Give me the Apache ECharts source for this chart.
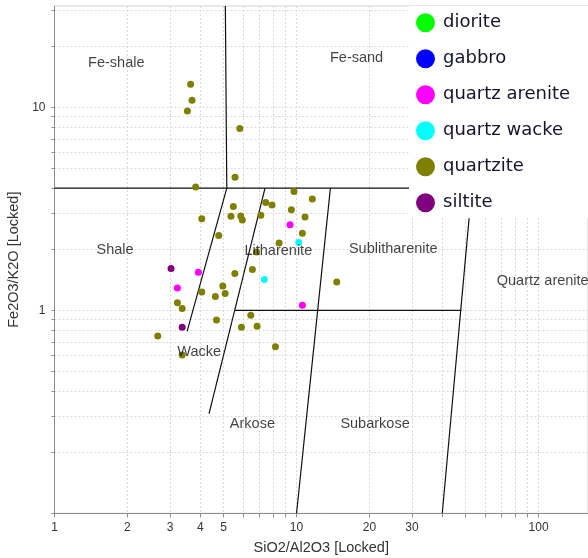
<!DOCTYPE html>
<html>
<head>
<meta charset="utf-8">
<script src="https://cdn.jsdelivr.net/npm/echarts@6/dist/echarts.min.js"></script>
<style>
  html, body { margin: 0; padding: 0; background: #fff; }
  #chart { width: 588px; height: 558px; }
</style>
</head>
<body>
<div id="chart"></div>
<script>
// Log-log sandstone classification: SiO2/Al2O3 vs Fe2O3/K2O

const xTickValues = [1, 2, 3, 4, 5, 6, 7, 8, 9, 10, 20, 30, 40, 50, 60, 70, 80, 90, 100];
const xLabelValues = [1, 2, 3, 4, 5, 10, 20, 30, 100];
const yTickValues = [0.1, 0.2, 0.3, 0.4, 0.5, 0.6, 0.7, 0.8, 0.9, 1, 2, 3, 4, 5, 6, 7, 8, 9, 10, 20, 30];
const yLabelValues = [1, 10];

const legendNames = ['diorite', 'gabbro', 'quartz arenite', 'quartz wacke', 'quartzite', 'siltite'];

// [SiO2/Al2O3, Fe2O3/K2O]
const diorite = [];
const gabbro = [];
const quartzArenite = [[9.40, 2.64], [3.93, 1.54], [3.22, 1.29], [10.57, 1.06]];
const quartzWacke = [[10.21, 2.16], [7.36, 1.42]];
const quartzite = [
  [3.65, 13.0], [3.70, 10.86], [3.54, 9.59], [5.83, 7.88], [5.57, 4.53],
  [3.83, 4.05], [9.76, 3.85], [11.62, 3.54], [7.46, 3.40], [7.92, 3.30],
  [5.48, 3.25], [9.52, 3.13], [7.12, 2.94], [5.36, 2.91], [5.88, 2.92],
  [5.97, 2.79], [10.84, 2.88], [4.06, 2.83], [10.57, 2.40], [4.77, 2.34],
  [8.47, 2.15], [6.83, 1.94], [6.57, 1.59], [5.56, 1.52], [14.66, 1.38],
  [4.96, 1.32], [4.06, 1.23], [5.07, 1.21], [4.62, 1.17], [3.22, 1.09],
  [3.37, 1.02], [6.47, 0.947], [4.67, 0.897], [6.87, 0.836], [5.92, 0.825],
  [2.67, 0.748], [8.18, 0.661], [3.37, 0.602]
];
const siltite = [[3.03, 1.61], [3.37, 0.825]];

// Field boundaries
const boundaries = [
  [[1, 4], [160, 4]],
  [[5.08, 31.6], [5.15, 4]],
  [[5.15, 4], [3.53, 0.788]],
  [[7.41, 4], [4.35, 0.31]],
  [[13.8, 4], [10.0, 0.1]],
  [[5.56, 1], [48, 1]],
  [[53, 4], [40, 0.1]]
];

// Field names and their anchor points
const fieldNames = ['Fe-shale', 'Fe-sand', 'Shale', 'Litharenite', 'Sublitharenite', 'Quartz arenite', 'Wacke', 'Arkose', 'Subarkose'];
const fieldAnchors = [[1.80, 16.6], [17.7, 17.5], [1.78, 1.99], [8.41, 1.97], [25.1, 2.0], [104, 1.39], [3.96, 0.624], [6.57, 0.277], [21.1, 0.277]];

const colors = {
  'diorite': '#00ff00',
  'gabbro': '#0000ff',
  'quartz arenite': '#ff00ff',
  'quartz wacke': '#00ffff',
  'quartzite': '#808000',
  'siltite': '#800080'
};
const groups = {
  'diorite': diorite,
  'gabbro': gabbro,
  'quartz arenite': quartzArenite,
  'quartz wacke': quartzWacke,
  'quartzite': quartzite,
  'siltite': siltite
};

const font = 'Liberation Sans, Arial, sans-serif';

const series = [];

boundaries.forEach(function (seg) {
  series.push({
    type: 'line',
    data: seg,
    symbol: 'none',
    silent: true,
    z: 3,
    lineStyle: { color: '#111', width: 1.2 },
    animation: false
  });
});

legendNames.forEach(function (name) {
  series.push({
    name: name,
    type: 'scatter',
    data: groups[name],
    symbol: 'circle',
    symbolSize: 7,
    z: 4,
    itemStyle: { color: colors[name], opacity: 1 },
    animation: false
  });
});

series.push({
  type: 'scatter',
  data: fieldAnchors.map(function (p, i) { return { name: fieldNames[i], value: p }; }),
  symbolSize: 1,
  itemStyle: { color: 'rgba(0,0,0,0)' },
  silent: true,
  z: 6,
  label: {
    show: true,
    position: 'inside',
    formatter: '{b}',
    color: '#111',
    fontSize: 14.5,
    fontFamily: font
  },
  animation: false
});

const chart = echarts.init(document.getElementById('chart'), null, { renderer: 'canvas' });
chart.setOption({
  animation: false,
  backgroundColor: '#fff',
  grid: {
    left: 54.5, right: 0, top: 6, bottom: 44.7,
    outerBoundsMode: 'none',
    containLabel: false,
    show: true, borderColor: '#cfcfcf', borderWidth: 1, backgroundColor: '#fff'
  },
  legend: {
    data: legendNames,
    orient: 'vertical',
    left: 409,
    top: 6,
    padding: [7.3, 30, 6, 7],
    backgroundColor: '#fff',
    itemWidth: 19,
    itemHeight: 19,
    itemGap: 17,
    icon: 'circle',
    z: 10,
    textStyle: {
      fontSize: 18,
      lineHeight: 19,
      fontFamily: 'DejaVu Sans, sans-serif',
      color: '#14142e',
      padding: [0, 0, 0, 3]
    }
  },
  xAxis: {
    type: 'log',
    logBase: 10,
    min: 1,
    max: 160,
    name: 'SiO2/Al2O3 [Locked]',
    nameLocation: 'middle',
    nameGap: 27,
    nameTextStyle: { fontSize: 14.5, color: '#333', fontFamily: font },
    axisLine: { show: true, lineStyle: { color: '#8c8c8c' } },
    axisTick: { show: true, length: 4, customValues: xTickValues, lineStyle: { color: '#8c8c8c' } },
    axisLabel: { customValues: xLabelValues, margin: 8, fontSize: 12, color: '#333', fontFamily: font },
    splitLine: { show: true, lineStyle: { color: '#d9d9d9', type: [2, 2] } }
  },
  yAxis: {
    type: 'log',
    logBase: 10,
    min: 0.1,
    max: 31.6,
    name: 'Fe2O3/K2O [Locked]',
    nameLocation: 'middle',
    nameGap: 28,
    nameTextStyle: { fontSize: 14.5, color: '#333', fontFamily: font },
    axisLine: { show: true, lineStyle: { color: '#8c8c8c' } },
    axisTick: { show: true, length: 3, customValues: yTickValues, lineStyle: { color: '#8c8c8c' } },
    axisLabel: { customValues: yLabelValues, margin: 9, fontSize: 12, color: '#333', fontFamily: font },
    splitLine: { show: true, lineStyle: { color: '#d9d9d9', type: [2, 2] } }
  },
  series: series
});
</script>
</body>
</html>
